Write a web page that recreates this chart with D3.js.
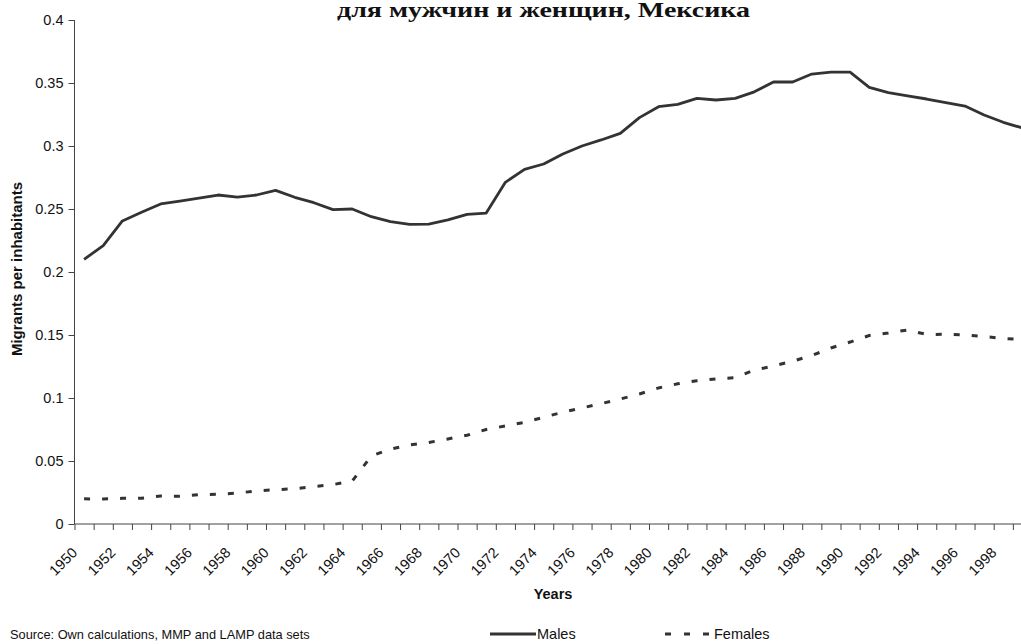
<!DOCTYPE html>
<html>
<head>
<meta charset="utf-8">
<script src="https://cdnjs.cloudflare.com/ajax/libs/d3/7.8.5/d3.min.js"></script>
<style>
	body { margin: 0; background: #fff; }
	svg { display: block; font-family: "Liberation Sans", Arial, sans-serif; }
</style>
</head>
<body>
<div id="chart"></div>
<script>
// values, one per year 1950..1999
var years = d3.range(1950, 2000);
var males = [0.210, 0.221, 0.2405, 0.2474, 0.254, 0.2563, 0.2587, 0.2611, 0.2595, 0.2611,
	0.2648, 0.2593, 0.255, 0.2495, 0.250, 0.2439, 0.2399, 0.2378, 0.238, 0.2413,
	0.2458, 0.2468, 0.2712, 0.2815, 0.2857, 0.2937, 0.300, 0.3048, 0.310, 0.3225,
	0.3312, 0.3331, 0.3378, 0.3365, 0.3378, 0.343, 0.3508, 0.3508, 0.3571, 0.3587,
	0.3587, 0.3466, 0.3423, 0.3397, 0.3373, 0.3344, 0.3317, 0.3246, 0.3188, 0.3143];
var females = [0.020, 0.0198, 0.0204, 0.0204, 0.0222, 0.022, 0.0232, 0.0236, 0.0245, 0.0263,
	0.0272, 0.028, 0.0297, 0.0313, 0.034, 0.054, 0.0595, 0.0627, 0.0647, 0.0675,
	0.0704, 0.075, 0.0778, 0.0807, 0.0847, 0.0887, 0.0921, 0.0955, 0.0992, 0.1032,
	0.108, 0.1113, 0.1137, 0.1152, 0.1161, 0.1222, 0.1254, 0.1292, 0.1337, 0.1397,
	0.1444, 0.1496, 0.1516, 0.154, 0.1504, 0.1506, 0.150, 0.1488, 0.1472, 0.1464];
var yTicks = [0, 0.05, 0.1, 0.15, 0.2, 0.25, 0.3, 0.35, 0.4];
var xLabels = years.filter(function (y) { return y % 2 === 0; });

(function () {
	var width = 1021, height = 644;
	var left = 74.5, plotTop = 20, bottom = 524;
	var step = 19.15;
	var ink = "#333";

	var svg = d3.select("#chart").append("svg")
		.attr("width", width)
		.attr("height", height);

	// category axis, plot is cut at the right edge like the original
	var x = d3.scaleBand()
		.domain(years)
		.range([left, left + years.length * step])
		.padding(0);
	var xTick = d3.scaleLinear()
		.domain([0, years.length])
		.range([left, left + years.length * step]);
	var y = d3.scaleLinear()
		.domain([0, 0.4])
		.range([bottom, plotTop]);

	function cx(i) {
		return x(years[i]) + x.bandwidth() / 2;
	}

	// title, only its second line is visible
	svg.append("text")
		.attr("x", 337)
		.attr("y", 17)
		.attr("textLength", 413)
		.attr("lengthAdjust", "spacingAndGlyphs")
		.style("font-family", "'Liberation Serif', 'Times New Roman', serif")
		.style("font-weight", "bold")
		.style("font-size", "22px")
		.attr("fill", "#111")
		.text("для мужчин и женщин, Мексика");

	// y axis
	var yAxis = svg.append("g")
		.attr("transform", "translate(" + left + ",0)")
		.call(d3.axisLeft(y).tickValues(yTicks).tickSize(6).tickPadding(5)
			.tickFormat(function (d) { return String(+d.toFixed(2)); }));
	yAxis.select(".domain").attr("stroke", "#444").attr("d", "M0," + plotTop + "V" + bottom);
	yAxis.selectAll(".tick line").attr("stroke", "#444");
	yAxis.selectAll("text").style("font-size", "14.5px").attr("fill", "#111");

	// x axis: marks between categories, labels on every other year
	var xAxis = svg.append("g")
		.attr("transform", "translate(0," + bottom + ")")
		.call(d3.axisBottom(xTick).tickValues(d3.range(0, years.length + 1)).tickSize(6).tickFormat(""));
	xAxis.select(".domain").attr("stroke", "#444").attr("d", "M" + left + ",0H" + width);
	xAxis.selectAll(".tick line").attr("stroke", "#444");

	svg.append("g")
		.selectAll("text")
		.data(xLabels)
		.enter()
		.append("text")
		.attr("transform", function (d) {
			var px = x(d) + x.bandwidth() / 2 - 9.5;
			return "translate(" + px + "," + (bottom + 26) + ") rotate(-45)";
		})
		.attr("text-anchor", "end")
		.attr("dy", "0.35em")
		.style("font-size", "14.5px")
		.attr("fill", "#111")
		.text(function (d) { return d; });

	// axis titles
	svg.append("text")
		.attr("transform", "translate(22,269) rotate(-90)")
		.attr("text-anchor", "middle")
		.style("font-size", "15px")
		.style("font-weight", "bold")
		.attr("fill", "#111")
		.text("Migrants per inhabitants");

	svg.append("text")
		.attr("x", 553)
		.attr("y", 599)
		.attr("text-anchor", "middle")
		.style("font-size", "14.5px")
		.style("font-weight", "bold")
		.attr("fill", "#111")
		.text("Years");

	// series
	var line = d3.line()
		.x(function (d, i) { return cx(i); })
		.y(function (d) { return y(d); });

	svg.append("path")
		.datum(males)
		.attr("fill", "none")
		.attr("stroke", ink)
		.attr("stroke-width", 2.8)
		.attr("stroke-linejoin", "round")
		.attr("d", line);

	svg.append("path")
		.datum(females)
		.attr("fill", "none")
		.attr("stroke", ink)
		.attr("stroke-width", 3)
		.attr("stroke-dasharray", "6,12")
		.attr("d", line);

	// legend + source
	svg.append("text")
		.attr("x", 10)
		.attr("y", 639)
		.style("font-size", "12.8px")
		.attr("fill", "#111")
		.text("Source: Own calculations, MMP and LAMP data sets");

	var legend = [
		{ name: "Males", x1: 490, x2: 536, dash: null },
		{ name: "Females", x1: 665, x2: 709, dash: "6,13" }
	];
	var lg = svg.append("g").selectAll("g").data(legend).enter().append("g");
	lg.append("line")
		.attr("x1", function (d) { return d.x1; })
		.attr("x2", function (d) { return d.x2; })
		.attr("y1", 634)
		.attr("y2", 634)
		.attr("stroke", ink)
		.attr("stroke-width", 3)
		.attr("stroke-dasharray", function (d) { return d.dash; });
	lg.append("text")
		.attr("x", function (d) { return d.x2 + (d.dash ? 5 : 1); })
		.attr("y", 639)
		.style("font-size", "14.5px")
		.attr("fill", "#111")
		.text(function (d) { return d.name; });
}());
</script>
</body>
</html>
